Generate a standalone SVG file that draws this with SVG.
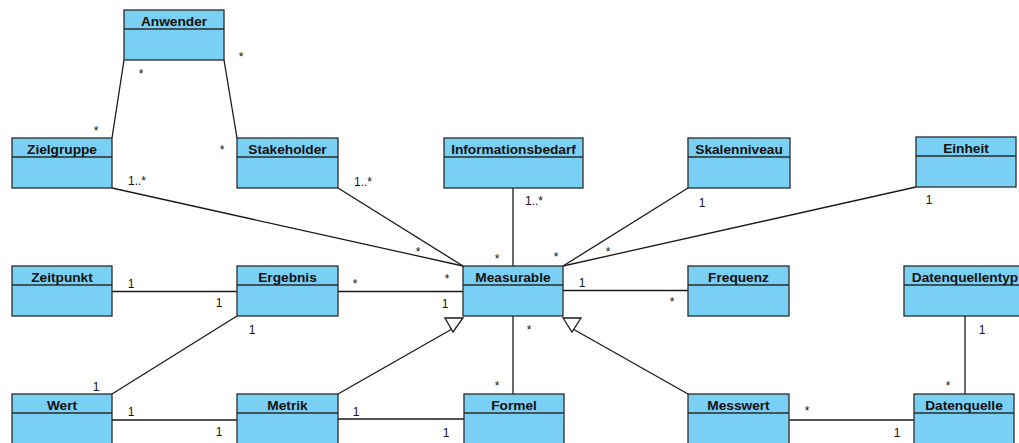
<svg xmlns="http://www.w3.org/2000/svg" width="1019" height="443" viewBox="0 0 1019 443">
  <style>
    .box { fill: #7acff4; stroke: #2b2b2b; stroke-width: 1.3; }
    .sep { stroke: #2b2b2b; stroke-width: 1.3; }
    .title { font-family: "Liberation Sans", Arial, sans-serif; font-weight: bold; font-size: 13.7px; fill: #111; text-anchor: middle; }
    .edge { stroke: #1a1a1a; stroke-width: 1.3; fill: none; }
    .gen { fill: #ffffff; stroke: #1a1a1a; stroke-width: 1.3; }
    .mult { font-family: "Liberation Sans", Arial, sans-serif; font-size: 12px; fill: #111; text-anchor: middle; }
  </style>

  <rect width="1019" height="443" fill="#ffffff"/>

  <!-- associations and generalizations -->
  <g id="connectors">
    <line class="edge" x1="124" y1="60" x2="112" y2="138"/>
    <line class="edge" x1="224" y1="60" x2="237" y2="138"/>
    <line class="edge" x1="112" y1="188" x2="463" y2="266"/>
    <line class="edge" x1="338" y1="188" x2="463" y2="266"/>
    <line class="edge" x1="513" y1="188" x2="513" y2="266"/>
    <line class="edge" x1="688" y1="188" x2="563" y2="266"/>
    <line class="edge" x1="916" y1="187" x2="563" y2="266"/>
    <line class="edge" x1="112" y1="291.5" x2="237" y2="291.5"/>
    <line class="edge" x1="338" y1="291.5" x2="463" y2="291.5"/>
    <line class="edge" x1="563" y1="290.5" x2="688" y2="290.5"/>
    <line class="edge" x1="237" y1="316" x2="112" y2="394"/>
    <line class="edge" x1="112" y1="420" x2="237" y2="420"/>
    <line class="edge" x1="338" y1="419" x2="464" y2="419"/>
    <line class="edge" x1="513" y1="316" x2="513" y2="394"/>
    <line class="edge" x1="789" y1="420" x2="914" y2="420"/>
    <line class="edge" x1="965" y1="316" x2="965" y2="394"/>
    <!-- Metrik / Messwert specialise Measurable -->
    <line class="edge" x1="338" y1="394" x2="452" y2="329"/>
    <polygon class="gen" points="445,318 463,318 453,332"/>
    <line class="edge" x1="688" y1="394" x2="573" y2="329"/>
    <polygon class="gen" points="563,318 581,318 572,332"/>
  </g>

  <!-- multiplicities -->
  <g id="multiplicities">
    <text class="mult" x="141" y="78">*</text>
    <text class="mult" x="241" y="61">*</text>
    <text class="mult" x="96" y="135">*</text>
    <text class="mult" x="222" y="154">*</text>
    <text class="mult" x="137" y="185">1..*</text>
    <text class="mult" x="363" y="186">1..*</text>
    <text class="mult" x="534" y="205">1..*</text>
    <text class="mult" x="418" y="256">*</text>
    <text class="mult" x="497" y="263">*</text>
    <text class="mult" x="556" y="261">*</text>
    <text class="mult" x="608" y="256">*</text>
    <text class="mult" x="447" y="283">*</text>
    <text class="mult" x="355" y="288">*</text>
    <text class="mult" x="445" y="308">1</text>
    <text class="mult" x="582" y="286.5">1</text>
    <text class="mult" x="672" y="306">*</text>
    <text class="mult" x="702" y="206.5">1</text>
    <text class="mult" x="929" y="204">1</text>
    <text class="mult" x="529" y="334">*</text>
    <text class="mult" x="497" y="390">*</text>
    <text class="mult" x="356" y="415.5">1</text>
    <text class="mult" x="446" y="436.5">1</text>
    <text class="mult" x="131" y="287.5">1</text>
    <text class="mult" x="219" y="307">1</text>
    <text class="mult" x="252" y="334.3">1</text>
    <text class="mult" x="96" y="390.5">1</text>
    <text class="mult" x="131" y="416">1</text>
    <text class="mult" x="219" y="436">1</text>
    <text class="mult" x="982" y="334.3">1</text>
    <text class="mult" x="948" y="390">*</text>
    <text class="mult" x="807" y="415">*</text>
    <text class="mult" x="897" y="436.5">1</text>
  </g>

  <!-- classes -->
  <g id="anwender">
    <rect class="box" x="124" y="10" width="100" height="50"/>
    <line class="sep" x1="124" y1="29" x2="224" y2="29"/>
    <text class="title" x="174" y="26">Anwender</text>
  </g>
  <g id="zielgruppe">
    <rect class="box" x="12" y="138" width="100" height="50"/>
    <line class="sep" x1="12" y1="157" x2="112" y2="157"/>
    <text class="title" x="62" y="154">Zielgruppe</text>
  </g>
  <g id="stakeholder">
    <rect class="box" x="237" y="138" width="101" height="50"/>
    <line class="sep" x1="237" y1="157" x2="338" y2="157"/>
    <text class="title" x="287.5" y="154">Stakeholder</text>
  </g>
  <g id="informationsbedarf">
    <rect class="box" x="444" y="138" width="139" height="50"/>
    <line class="sep" x1="444" y1="157" x2="583" y2="157"/>
    <text class="title" x="513.5" y="154">Informationsbedarf</text>
  </g>
  <g id="skalenniveau">
    <rect class="box" x="688" y="138" width="102" height="50"/>
    <line class="sep" x1="688" y1="157" x2="790" y2="157"/>
    <text class="title" x="739" y="154">Skalenniveau</text>
  </g>
  <g id="einheit">
    <rect class="box" x="916" y="137" width="100" height="50"/>
    <line class="sep" x1="916" y1="156" x2="1016" y2="156"/>
    <text class="title" x="966" y="153">Einheit</text>
  </g>
  <g id="zeitpunkt">
    <rect class="box" x="12" y="266" width="100" height="50"/>
    <line class="sep" x1="12" y1="285" x2="112" y2="285"/>
    <text class="title" x="62" y="282">Zeitpunkt</text>
  </g>
  <g id="ergebnis">
    <rect class="box" x="237" y="266" width="101" height="50"/>
    <line class="sep" x1="237" y1="285" x2="338" y2="285"/>
    <text class="title" x="287.5" y="282">Ergebnis</text>
  </g>
  <g id="measurable">
    <rect class="box" x="463" y="266" width="100" height="50"/>
    <line class="sep" x1="463" y1="285" x2="563" y2="285"/>
    <text class="title" x="513" y="282">Measurable</text>
  </g>
  <g id="frequenz">
    <rect class="box" x="688" y="266" width="101" height="50"/>
    <line class="sep" x1="688" y1="285" x2="789" y2="285"/>
    <text class="title" x="738.5" y="282">Frequenz</text>
  </g>
  <g id="datenquellentyp">
    <rect class="box" x="904" y="266" width="122" height="50"/>
    <line class="sep" x1="904" y1="285" x2="1026" y2="285"/>
    <text class="title" x="965" y="282">Datenquellentyp</text>
  </g>
  <g id="wert">
    <rect class="box" x="12" y="394" width="100" height="60"/>
    <line class="sep" x1="12" y1="413" x2="112" y2="413"/>
    <text class="title" x="62" y="410">Wert</text>
  </g>
  <g id="metrik">
    <rect class="box" x="237" y="394" width="101" height="60"/>
    <line class="sep" x1="237" y1="413" x2="338" y2="413"/>
    <text class="title" x="287.5" y="410">Metrik</text>
  </g>
  <g id="formel">
    <rect class="box" x="464" y="394" width="100" height="60"/>
    <line class="sep" x1="464" y1="413" x2="564" y2="413"/>
    <text class="title" x="514" y="410">Formel</text>
  </g>
  <g id="messwert">
    <rect class="box" x="688" y="394" width="101" height="60"/>
    <line class="sep" x1="688" y1="413" x2="789" y2="413"/>
    <text class="title" x="738.5" y="410">Messwert</text>
  </g>
  <g id="datenquelle">
    <rect class="box" x="914" y="394" width="100" height="60"/>
    <line class="sep" x1="914" y1="413" x2="1014" y2="413"/>
    <text class="title" x="964" y="410">Datenquelle</text>
  </g>
</svg>
